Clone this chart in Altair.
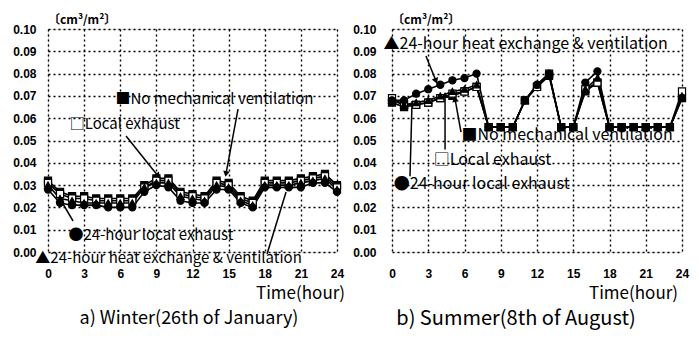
import altair as alt
import pandas as pd

hours = list(range(25))
series_names = ["No mechanical ventilation", "Local exhaust",
                "24-hour local exhaust", "24-hour heat exchange & ventilation"]
x_ticks = [0, 3, 6, 9, 12, 15, 18, 21, 24]
y_ticks = [0.00, 0.01, 0.02, 0.03, 0.04, 0.05, 0.06, 0.07, 0.08, 0.09, 0.10]

# Winter (26th of January)
winter_nomech = [0.032, 0.027, 0.025, 0.025, 0.024, 0.024, 0.024, 0.024, 0.030, 0.033, 0.033, 0.027, 0.026,
                 0.025, 0.032, 0.031, 0.025, 0.023, 0.032, 0.032, 0.032, 0.033, 0.034, 0.035, 0.030]
winter_local = [0.031, 0.026, 0.024, 0.024, 0.023, 0.023, 0.023, 0.023, 0.029, 0.032, 0.032, 0.026, 0.025,
                0.024, 0.031, 0.030, 0.024, 0.022, 0.031, 0.031, 0.031, 0.032, 0.033, 0.034, 0.029]
winter_local24 = [0.028, 0.022, 0.021, 0.021, 0.021, 0.020, 0.020, 0.020, 0.027, 0.030, 0.029, 0.023, 0.022,
                  0.022, 0.028, 0.028, 0.022, 0.020, 0.029, 0.029, 0.029, 0.029, 0.031, 0.031, 0.027]
winter_heat = [0.030, 0.024, 0.023, 0.022, 0.022, 0.022, 0.022, 0.022, 0.029, 0.031, 0.031, 0.025, 0.024,
               0.023, 0.030, 0.029, 0.023, 0.021, 0.030, 0.030, 0.030, 0.031, 0.032, 0.033, 0.028]

# Summer (8th of August)
summer_nomech = [0.067, 0.065, 0.066, 0.067, 0.069, 0.070, 0.072, 0.074, 0.056, 0.056, 0.056, 0.068, 0.074,
                 0.079, 0.056, 0.056, 0.072, 0.076, 0.056, 0.056, 0.056, 0.056, 0.056, 0.056, 0.069]
summer_local = [0.069, 0.066, 0.066, 0.067, 0.069, 0.071, 0.072, 0.074, 0.056, 0.056, 0.056, 0.068, 0.074,
                0.080, 0.056, 0.056, 0.073, 0.076, 0.056, 0.056, 0.056, 0.056, 0.056, 0.056, 0.072]
summer_local24 = [0.068, 0.068, 0.071, 0.073, 0.075, 0.077, 0.078, 0.080, 0.056, 0.056, 0.056, 0.068, 0.075,
                  0.080, 0.056, 0.056, 0.076, 0.081, 0.056, 0.056, 0.056, 0.056, 0.056, 0.056, 0.069]
summer_heat = [0.068, 0.066, 0.067, 0.068, 0.070, 0.072, 0.073, 0.075, 0.056, 0.056, 0.056, 0.068, 0.075,
               0.080, 0.056, 0.056, 0.073, 0.078, 0.056, 0.056, 0.056, 0.056, 0.056, 0.056, 0.070]

# annotation labels: (text, hour, value)
winter_labels = [("■No mechanical ventilation", 5.6, 0.0684),
                 ("□Local exhaust", 1.8, 0.0572),
                 ("●24-hour local exhaust", 1.7, 0.0075),
                 ("▲24-hour heat exchange & ventilation", -1.05, -0.0027)]
summer_labels = [("▲24-hour heat exchange & ventilation", -0.7, 0.0933),
                 ("■No mechanical ventilation", 5.75, 0.0526),
                 ("□Local exhaust", 3.45, 0.0412),
                 ("●24-hour local exhaust", 0.15, 0.0305)]
# arrows: (hour, value, hour2, value2)
winter_arrows = [(15.78, 0.0641, 14.78, 0.0350),
                 (6.48, 0.0520, 9.14, 0.0341),
                 (2.08, 0.0139, 1.16, 0.0224),
                 (18.19, -0.0009, 19.77, 0.0269)]
summer_arrows = [(2.81, 0.0879, 3.64, 0.0767),
                 (5.71, 0.0538, 5.22, 0.0686),
                 (4.39, 0.0460, 4.39, 0.0704),
                 (1.49, 0.0340, 1.66, 0.0677)]
# arrow heads: (hour, value, angle)
winter_heads = [(14.78, 0.0350, 190), (9.14, 0.0341, 141)]
summer_heads = [(3.64, 0.0767, 158), (5.22, 0.0686, 350), (4.39, 0.0704, 0)]

ANN_FONT = "Noto Sans CJK JP"
AX_FONT = "Liberation Sans"

shape_scale = alt.Scale(domain=series_names, range=["square", "square", "circle", "triangle-up"])
fill_scale = alt.Scale(domain=series_names, range=["black", "white", "black", "black"])


def series_df(values):
    rows = []
    for name, vals in zip(series_names, values):
        for h, v in zip(hours, vals):
            rows.append({"hour": h, "value": v, "series": name})
    return pd.DataFrame(rows)


def make_panel(values, labels, arrows, heads, width, ylabpad, time_x, subtitle, sub_x, ann_size, sub_size):
    x = alt.X("hour:Q", scale=alt.Scale(domain=[0, 24], nice=False, zero=False),
              axis=alt.Axis(values=x_ticks, title=None, labelPadding=16, ticks=False, domain=False,
                            grid=True, gridDash=[2, 3], gridColor="black", gridWidth=1.4, gridOpacity=1,
                            labelFont=AX_FONT, labelFontWeight="bold", labelFontSize=12,
                            labelColor="black", labelFlush=False))
    y = alt.Y("value:Q", scale=alt.Scale(domain=[0, 0.1], nice=False, zero=False),
              axis=alt.Axis(values=y_ticks, format=".2f", title=None, labelPadding=ylabpad, ticks=False,
                            domain=False, grid=True, gridDash=[2, 3], gridColor="black", gridWidth=1.4,
                            gridOpacity=1, labelFont=AX_FONT, labelFontWeight="bold", labelFontSize=12,
                            labelColor="black", labelFlush=False))
    df = series_df(values)
    base = alt.Chart(df)
    lines = base.mark_line(color="black", strokeWidth=1.6).encode(x=x, y=y, detail="series:N")
    pts = base.mark_point(size=50, opacity=1, strokeWidth=1.2, stroke="black").encode(
        x=x, y=y,
        shape=alt.Shape("series:N", scale=shape_scale, legend=None),
        fill=alt.Fill("series:N", scale=fill_scale, legend=None),
    )
    adf = pd.DataFrame([{"hour": a, "value": b, "hour2": c, "value2": d} for a, b, c, d in arrows])
    arr = alt.Chart(adf).mark_rule(color="black", strokeWidth=1.5).encode(
        x=x, y=y, x2="hour2:Q", y2="value2:Q")
    hdf = pd.DataFrame([{"hour": a, "value": b, "angle": c} for a, b, c in heads])
    hd = alt.Chart(hdf).mark_point(shape="triangle-up", filled=True, color="black", size=45,
                                   opacity=1).encode(
        x=x, y=y, angle=alt.Angle("angle:Q", scale=None))
    ldf = pd.DataFrame([{"text": t, "hour": h, "value": v} for t, h, v in labels])
    txt = alt.Chart(ldf).mark_text(align="left", baseline="middle", font=ANN_FONT, fontSize=ann_size,
                                   color="black").encode(x=x, y=y, text="text:N")
    one = pd.DataFrame({"t": ["〔cm³/m²〕"]})
    unit = alt.Chart(one).mark_text(align="left", baseline="middle", font=ANN_FONT, fontSize=12,
                                    fontWeight="bold", color="black").encode(
        x=alt.value(0), y=alt.value(-9), text="t:N")
    tdf = pd.DataFrame({"t": ["Time(hour)"]})
    tlab = alt.Chart(tdf).mark_text(align="left", baseline="middle", font=ANN_FONT, fontSize=17,
                                    color="black").encode(
        x=alt.value(time_x), y=alt.value(265), text="t:N")
    sdf = pd.DataFrame({"t": [subtitle]})
    sub = alt.Chart(sdf).mark_text(align="center", baseline="middle", font=ANN_FONT, fontSize=sub_size,
                                   color="black").encode(
        x=alt.value(sub_x), y=alt.value(290), text="t:N")
    return alt.layer(lines, pts, arr, hd, txt, unit, tlab, sub).properties(width=width, height=223)


left = make_panel([winter_nomech, winter_local, winter_local24, winter_heat],
                  winter_labels, winter_arrows, winter_heads, 289, 12, 208,
                  "a) Winter(26th of January)", 141, 15, 18)
right = make_panel([summer_nomech, summer_local, summer_local24, summer_heat],
                   summer_labels, summer_arrows, summer_heads, 290, 16, 197,
                   "b) Summer(8th of August)", 124, 16, 20)

chart = alt.hconcat(left, right, spacing=55, bounds="flush").properties(
    padding={"left": 4, "top": 5, "right": 0, "bottom": 0}
).configure_view(stroke="black", strokeWidth=1.5).configure(background="white")

chart.save("out.html", embed_options={"renderer": "svg", "actions": False})
